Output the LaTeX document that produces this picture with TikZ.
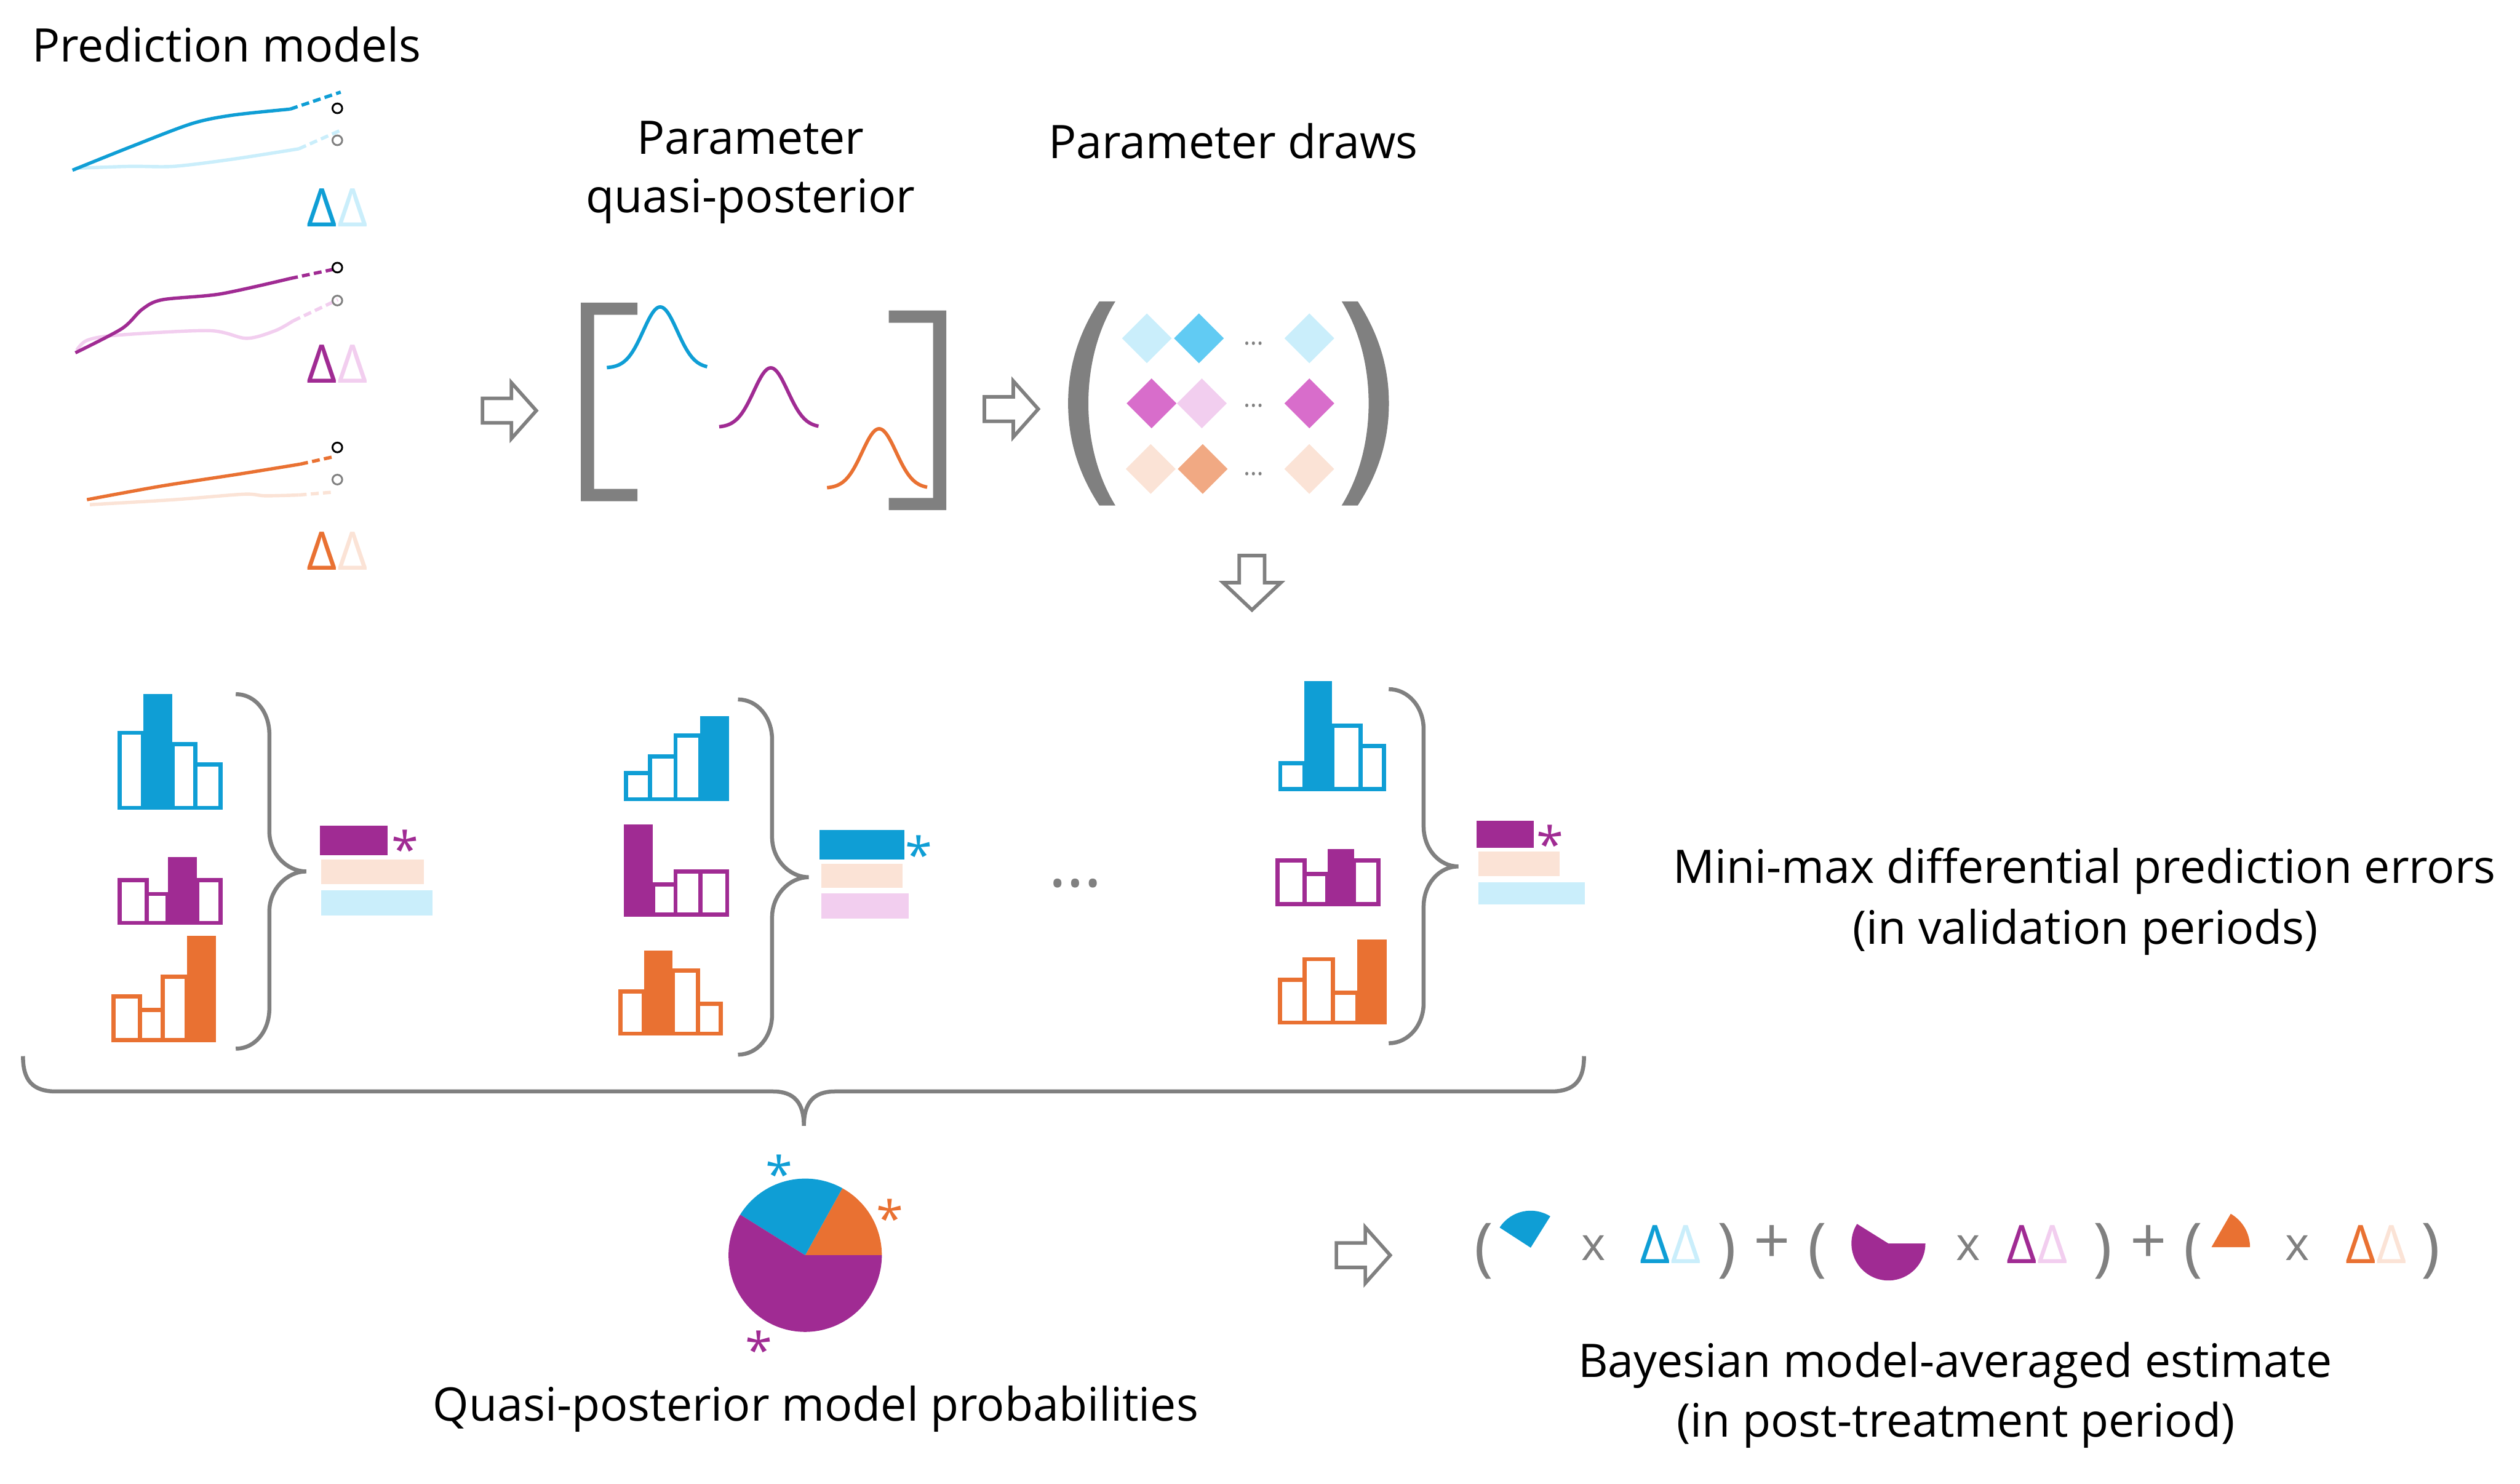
\documentclass[tikz,border=0pt]{standalone}
\usepackage{fontspec}
\setmainfont{Open Sans}
\definecolor{cgrey}{HTML}{808080}
\definecolor{cblue}{HTML}{0F9ED5}
\definecolor{lblue}{HTML}{CAEEFB}
\definecolor{mblue}{HTML}{61CBF3}
\definecolor{cpurp}{HTML}{A02B93}
\definecolor{lpink}{HTML}{F2CEEF}
\definecolor{mpurp}{HTML}{D86DCB}
\definecolor{corange}{HTML}{E97132}
\definecolor{lpeach}{HTML}{FBE3D6}
\definecolor{morange}{HTML}{F1A983}
\newcommand\barchart[3]{%
  \foreach \a/\b/\t/\f in {#3}{%
    \ifnum\f=1
      \fill[#1] (\a,\t) rectangle (\b,#2);
    \else
      \draw[#1, line width=0.069cm] (\a,\t+1.3) rectangle (\b,#2-1.3);
    \fi}}
\newcommand\curlybr[6]{%
  \draw[brace] (#1,#4) .. controls (#1+12,#4) and (#2,#4+11) .. (#2,#4+25)
    -- (#2,#5-25) .. controls (#2,#5-11) and (#3-12,#5) .. (#3,#5)
    .. controls (#3-12,#5) and (#2,#5+11) .. (#2,#5+25)
    -- (#2,#6-25) .. controls (#2,#6-11) and (#1+12,#6) .. (#1,#6);}
\newcommand\dia[3]{\fill[#3] (#1,#2) +(-15.5,0) -- +(0,-15.5) -- +(15.5,0) -- +(0,15.5) -- cycle;}
\newcommand\rarr[2]{\draw[blockarrow] (#1,#2-7.6) -- (#1+18,#2-7.6) -- (#1+18,#2-17.4) -- (#1+33.5,#2) -- (#1+18,#2+17.4) -- (#1+18,#2+7.6) -- (#1,#2+7.6) -- cycle;}
\begin{document}
\begin{tikzpicture}[x=0.026505cm, y=-0.026505cm,
  blockarrow/.style={draw=cgrey, line width=0.058cm, fill=white, miter limit=10},
  brace/.style={draw=cgrey, line width=0.066cm},
  bell/.style={line width=0.058cm},
  trend/.style={line width=0.055cm},
  dsh/.style={line width=0.055cm, dash pattern=on 0.13cm off 0.07cm},
  lbl/.style={font=\fontsize{21.7}{26}\selectfont, inner sep=0pt, anchor=base},
  delta/.style={font=\fontsize{25}{28}\selectfont, inner sep=0pt, anchor=center},
  fpar/.style={font=\fontsize{30}{34}\selectfont, inner sep=0pt, anchor=center, text=cgrey},
  ftimes/.style={font=\fontsize{21.7}{26}\selectfont, inner sep=0pt, anchor=center, text=cgrey},
  astk/.style={font=\fontsize{23}{25}\selectfont, inner sep=0pt, anchor=north},
  dots/.style={inner sep=0pt, anchor=base, text=cgrey}
]
\useasboundingbox (0,0) rectangle (1568,923);

% ---------------- Prediction models ----------------
\node[lbl] (title) at (141,38.5) {Prediction models};

% blue model
\draw[lblue, trend] plot[smooth] coordinates {(46.9,104.7) (81.2,103.5) (108.3,103.5) (144.4,99.1) (185.9,92.6)};
\draw[lblue, dsh] (185.9,92.6) -- (213,80.6);
\draw[cblue, trend] plot[smooth] coordinates {(45.1,105.9) (81.2,91.4) (119.1,77) (144.4,71.7) (180.5,67.9)};
\draw[cblue, dsh] (180.5,67.9) -- (212,57.3);
\draw[black, line width=0.03cm] (209.9,67.4) circle[radius=0.08cm];
\draw[cgrey, line width=0.03cm] (209.9,87.3) circle[radius=0.08cm];
\node[delta] (d1) at (209.8,129.3) {\textcolor{cblue}{Δ}\textcolor{lblue}{Δ}};

% purple model
\draw[lpink, trend] plot[smooth] coordinates {(47.8,217.8) (54.1,211.8) (72.2,208.6) (130,205.7) (153.4,210.5) (171.4,205.7) (182.3,199.7)};
\draw[lpink, dsh] (182.3,199.7) -- (210.2,186.5);
\draw[cpurp, trend] plot[smooth] coordinates {(46.9,219.5) (75.8,204.5) (88.4,192.5) (101,186.5) (137.1,182.9) (180.5,173.3)};
\draw[cpurp, dsh] (180.5,173.3) -- (209.3,167.2);
\draw[black, line width=0.03cm] (209.9,166.5) circle[radius=0.08cm];
\draw[cgrey, line width=0.03cm] (209.9,187) circle[radius=0.08cm];
\node[delta] (d2) at (209.8,226.5) {\textcolor{cpurp}{Δ}\textcolor{lpink}{Δ}};

% orange model
\draw[lpeach, trend] plot[smooth] coordinates {(55.9,314) (108.3,310.9) (151.6,307.5) (165,308.5) (185.9,308)};
\draw[lpeach, dsh] (185.9,308) -- (208.4,306.1);
\draw[corange, trend] plot[smooth] coordinates {(54.1,310.9) (100,302.5) (149.8,294.8) (186.8,288.8)};
\draw[corange, dsh] (186.8,288.8) -- (206.6,284.4);
\draw[black, line width=0.03cm] (209.9,278.4) circle[radius=0.08cm];
\draw[cgrey, line width=0.03cm] (209.9,298.4) circle[radius=0.08cm];
\node[delta] (d3) at (209.8,342.7) {\textcolor{corange}{Δ}\textcolor{lpeach}{Δ}};

% ---------------- arrows ----------------
\rarr{300.2}{255.5}
\rarr{612.5}{254.5}
\rarr{831.5}{781}
\draw[blockarrow] (771.1,345.7) -- (786.9,345.7) -- (786.9,362.5) -- (797,362.5) -- (779,379.5) -- (761,362.5) -- (771.1,362.5) -- cycle;

% ---------------- Parameter quasi-posterior ----------------
\node[lbl] (qp1) at (467,95.9) {Parameter};
\node[lbl] (qp2) at (467,132.4) {quasi-posterior};
\fill[cgrey] (361.4,188.3) -- (396.6,188.3) -- (396.6,195.9) -- (369.6,195.9) -- (369.6,304.2) -- (396.6,304.2) -- (396.6,311.8) -- (361.4,311.8) -- cycle;
\fill[cgrey] (553,193.2) -- (588.8,193.2) -- (588.8,317.4) -- (553,317.4) -- (553,309.8) -- (580.6,309.8) -- (580.6,200.8) -- (553,200.8) -- cycle;
\draw[cblue, bell] plot[domain=377.6:440, samples=80] (\x, {229 - 38*exp(-((\x-410.8)/10.6)^2/2)});
\draw[cpurp, bell] plot[domain=447.5:509.3, samples=80] (\x, {265.9 - 37*exp(-((\x-479.6)/10.6)^2/2)});
\draw[corange, bell] plot[domain=514.6:576.9, samples=80] (\x, {303.8 - 37*exp(-((\x-547)/10.6)^2/2)});

% ---------------- Parameter draws ----------------
\node[lbl] (pd) at (767.4,98.5) {Parameter draws};
\fill[cgrey] (684,187.5) -- (694,187.5) .. controls (682,207) and (677.2,230) .. (677.2,251) .. controls (677.2,272) and (682,295) .. (694,314.5) -- (684,314.5) .. controls (670,293) and (664.6,272) .. (664.6,251) .. controls (664.6,230) and (670,209) .. (684,187.5) -- cycle;
\fill[cgrey] (844.8,187.5) -- (834.8,187.5) .. controls (846.8,207) and (851.6,230) .. (851.6,251) .. controls (851.6,272) and (846.8,295) .. (834.8,314.5) -- (844.8,314.5) .. controls (858.8,293) and (864.2,272) .. (864.2,251) .. controls (864.2,230) and (858.8,209) .. (844.8,187.5) -- cycle;
\dia{713.6}{210.5}{lblue} \dia{746}{210.5}{mblue} \dia{814.7}{210.5}{lblue}
\dia{716.5}{251}{mpurp} \dia{747.8}{251}{lpink} \dia{814.7}{251}{mpurp}
\dia{716}{291.8}{lpeach} \dia{748.3}{291.8}{morange} \dia{814.7}{291.8}{lpeach}
\node[dots, font=\fontsize{12}{14}\selectfont] (e1) at (780.1,214.4) {…};
\node[dots, font=\fontsize{12}{14}\selectfont] (e2) at (780.1,253.3) {…};
\node[dots, font=\fontsize{12}{14}\selectfont] (e3) at (780.1,295.7) {…};

% ---------------- validation bar charts ----------------
\barchart{cblue}{503.9}{74.5/89.1/454.6/0, 89.1/107.3/431.9/1, 107.3/121.6/461.8/0, 121.6/137.3/474.4/0}
\barchart{cpurp}{575.5}{74.5/91.3/546.4/0, 91.3/104.4/554.9/0, 104.4/122.6/533.4/1, 122.6/137.3/546.4/0}
\barchart{corange}{648.4}{70.7/87/618.8/0, 87/101.3/627.2/0, 101.3/116.3/606.3/0, 116.3/134.2/582.1/1}
\barchart{cblue}{498.6}{389.4/404.4/479.8/0, 404.4/420.3/469.4/0, 420.3/435.6/456.2/0, 435.6/453.8/445.5/1}
\barchart{cpurp}{570.3}{388.1/406.2/513.0/1, 406.2/420.3/548.9/0, 420.3/435.9/541.0/0, 435.9/452.5/541.0/0}
\barchart{corange}{644.4}{386/400.7/615.6/0, 400.7/418.5/591.5/1, 418.5/434.4/602.5/0, 434.4/448.6/623.4/0}
\barchart{cblue}{492.3}{796.6/811.7/473.6/0, 811.7/828.9/423.8/1, 828.9/846.5/450.2/0, 846.5/861.1/463/0}
\barchart{cpurp}{563.9}{795/811.7/534.2/0, 811.7/826/542.5/0, 826/842.4/528.2/1, 842.4/857.8/534.2/0}
\barchart{corange}{637.5}{796.3/811.7/608.3/0, 811.7/829.3/595.5/0, 829.3/844.5/616.3/0, 844.5/862.8/584.5/1}

\curlybr{146.7}{167.6}{190.5}{431.9}{542.2}{652.5}
\curlybr{459.2}{480.4}{503.2}{435.2}{545.8}{656.2}
\curlybr{864.1}{885.8}{907.4}{428.8}{539.1}{649.1}

% minimax results
\fill[cpurp] (198.9,513.9) rectangle (241.1,532.2);
\fill[lpeach] (199.8,534.7) rectangle (263.7,550);
\fill[lblue] (199.8,554) rectangle (269.3,569.6);
\node[astk, text=cpurp] (s1) at (252.1,516.1) {*};
\fill[cblue] (509.8,516.6) rectangle (562.6,534.6);
\fill[lpeach] (511,537.3) rectangle (561.4,552.3);
\fill[lpink] (511,555.8) rectangle (565.4,571.6);
\node[astk, text=cblue] (s2) at (571.6,519.4) {*};
\fill[cpurp] (918.9,510.8) rectangle (954.5,527.5);
\fill[lpeach] (919.7,529.7) rectangle (970.4,545.2);
\fill[lblue] (919.7,548.9) rectangle (986,562.9);
\node[astk, text=cpurp] (s3) at (964.3,513) {*};

\node[dots, font=\fontsize{32}{36}\selectfont] (emid) at (669,551.8) {…};

\node[lbl] (mm1) at (1297,549.4) {Mini-max differential prediction errors};
\node[lbl] (mm2) at (1297.5,587.3) {(in validation periods)};

% big brace
\draw[brace] (14.3,657.1) .. controls (14.3,672) and (20,679.1) .. (35,679.1) -- (481,679.1)
  .. controls (494,679.1) and (500.2,686) .. (500.2,700.5)
  .. controls (500.2,686) and (506.4,679.1) .. (519.4,679.1) -- (965,679.1)
  .. controls (980,679.1) and (985.6,672) .. (985.6,657.1);

% ---------------- pie ----------------
\fill[corange] (501,781) -- ++(0:1.264cm) arc[start angle=0, end angle=61, radius=1.264cm] -- cycle;
\fill[cblue] (501,781) -- ++(61:1.264cm) arc[start angle=61, end angle=148, radius=1.264cm] -- cycle;
\fill[cpurp] (501,781) -- ++(148:1.264cm) arc[start angle=148, end angle=360, radius=1.264cm] -- cycle;
\node[astk, text=cblue] (sp1) at (484.7,718.1) {*};
\node[astk, text=corange] (sp2) at (553.6,745.8) {*};
\node[astk, text=cpurp] (sp3) at (472,827.6) {*};
\node[lbl] (qpm) at (507.5,884) {Quasi-posterior model probabilities};

% ---------------- formula ----------------
\node[fpar] (p1) at (923.3,778.3) {(};
\fill[cblue] (952.4,776.3) -- ++(58:0.61cm) arc[start angle=58, end angle=147, radius=0.61cm] -- cycle;
\node[ftimes] (x1) at (991.6,776.6) {x};
\node[delta] (fd1) at (1039.4,774.2) {\textcolor{cblue}{Δ}\textcolor{lblue}{Δ}};
\node[fpar] (p2) at (1074.3,778.3) {)};
\node[fpar] (pl1) at (1102.5,774.2) {+};
\node[fpar] (p3) at (1130.9,778.3) {(};
\fill[cpurp] (1175,773.7) -- ++(148:0.61cm) arc[start angle=148, end angle=360, radius=0.61cm] -- cycle;
\node[ftimes] (x2) at (1224.7,776.6) {x};
\node[delta] (fd2) at (1267.5,774.2) {\textcolor{cpurp}{Δ}\textcolor{lpink}{Δ}};
\node[fpar] (p4) at (1308.5,778.3) {)};
\node[fpar] (pl2) at (1336.7,774.2) {+};
\node[fpar] (p5) at (1364.8,778.3) {(};
\fill[corange] (1376,776) -- ++(0:0.636cm) arc[start angle=0, end angle=60, radius=0.636cm] -- cycle;
\node[ftimes] (x3) at (1429.6,776.6) {x};
\node[delta] (fd3) at (1478.4,774.2) {\textcolor{corange}{Δ}\textcolor{lpeach}{Δ}};
\node[fpar] (p6) at (1512.6,778.3) {)};

\node[lbl] (bma1) at (1216.5,857) {Bayesian model-averaged estimate};
\node[lbl] (bma2) at (1217,894) {(in post-treatment period)};
\end{tikzpicture}
\end{document}
